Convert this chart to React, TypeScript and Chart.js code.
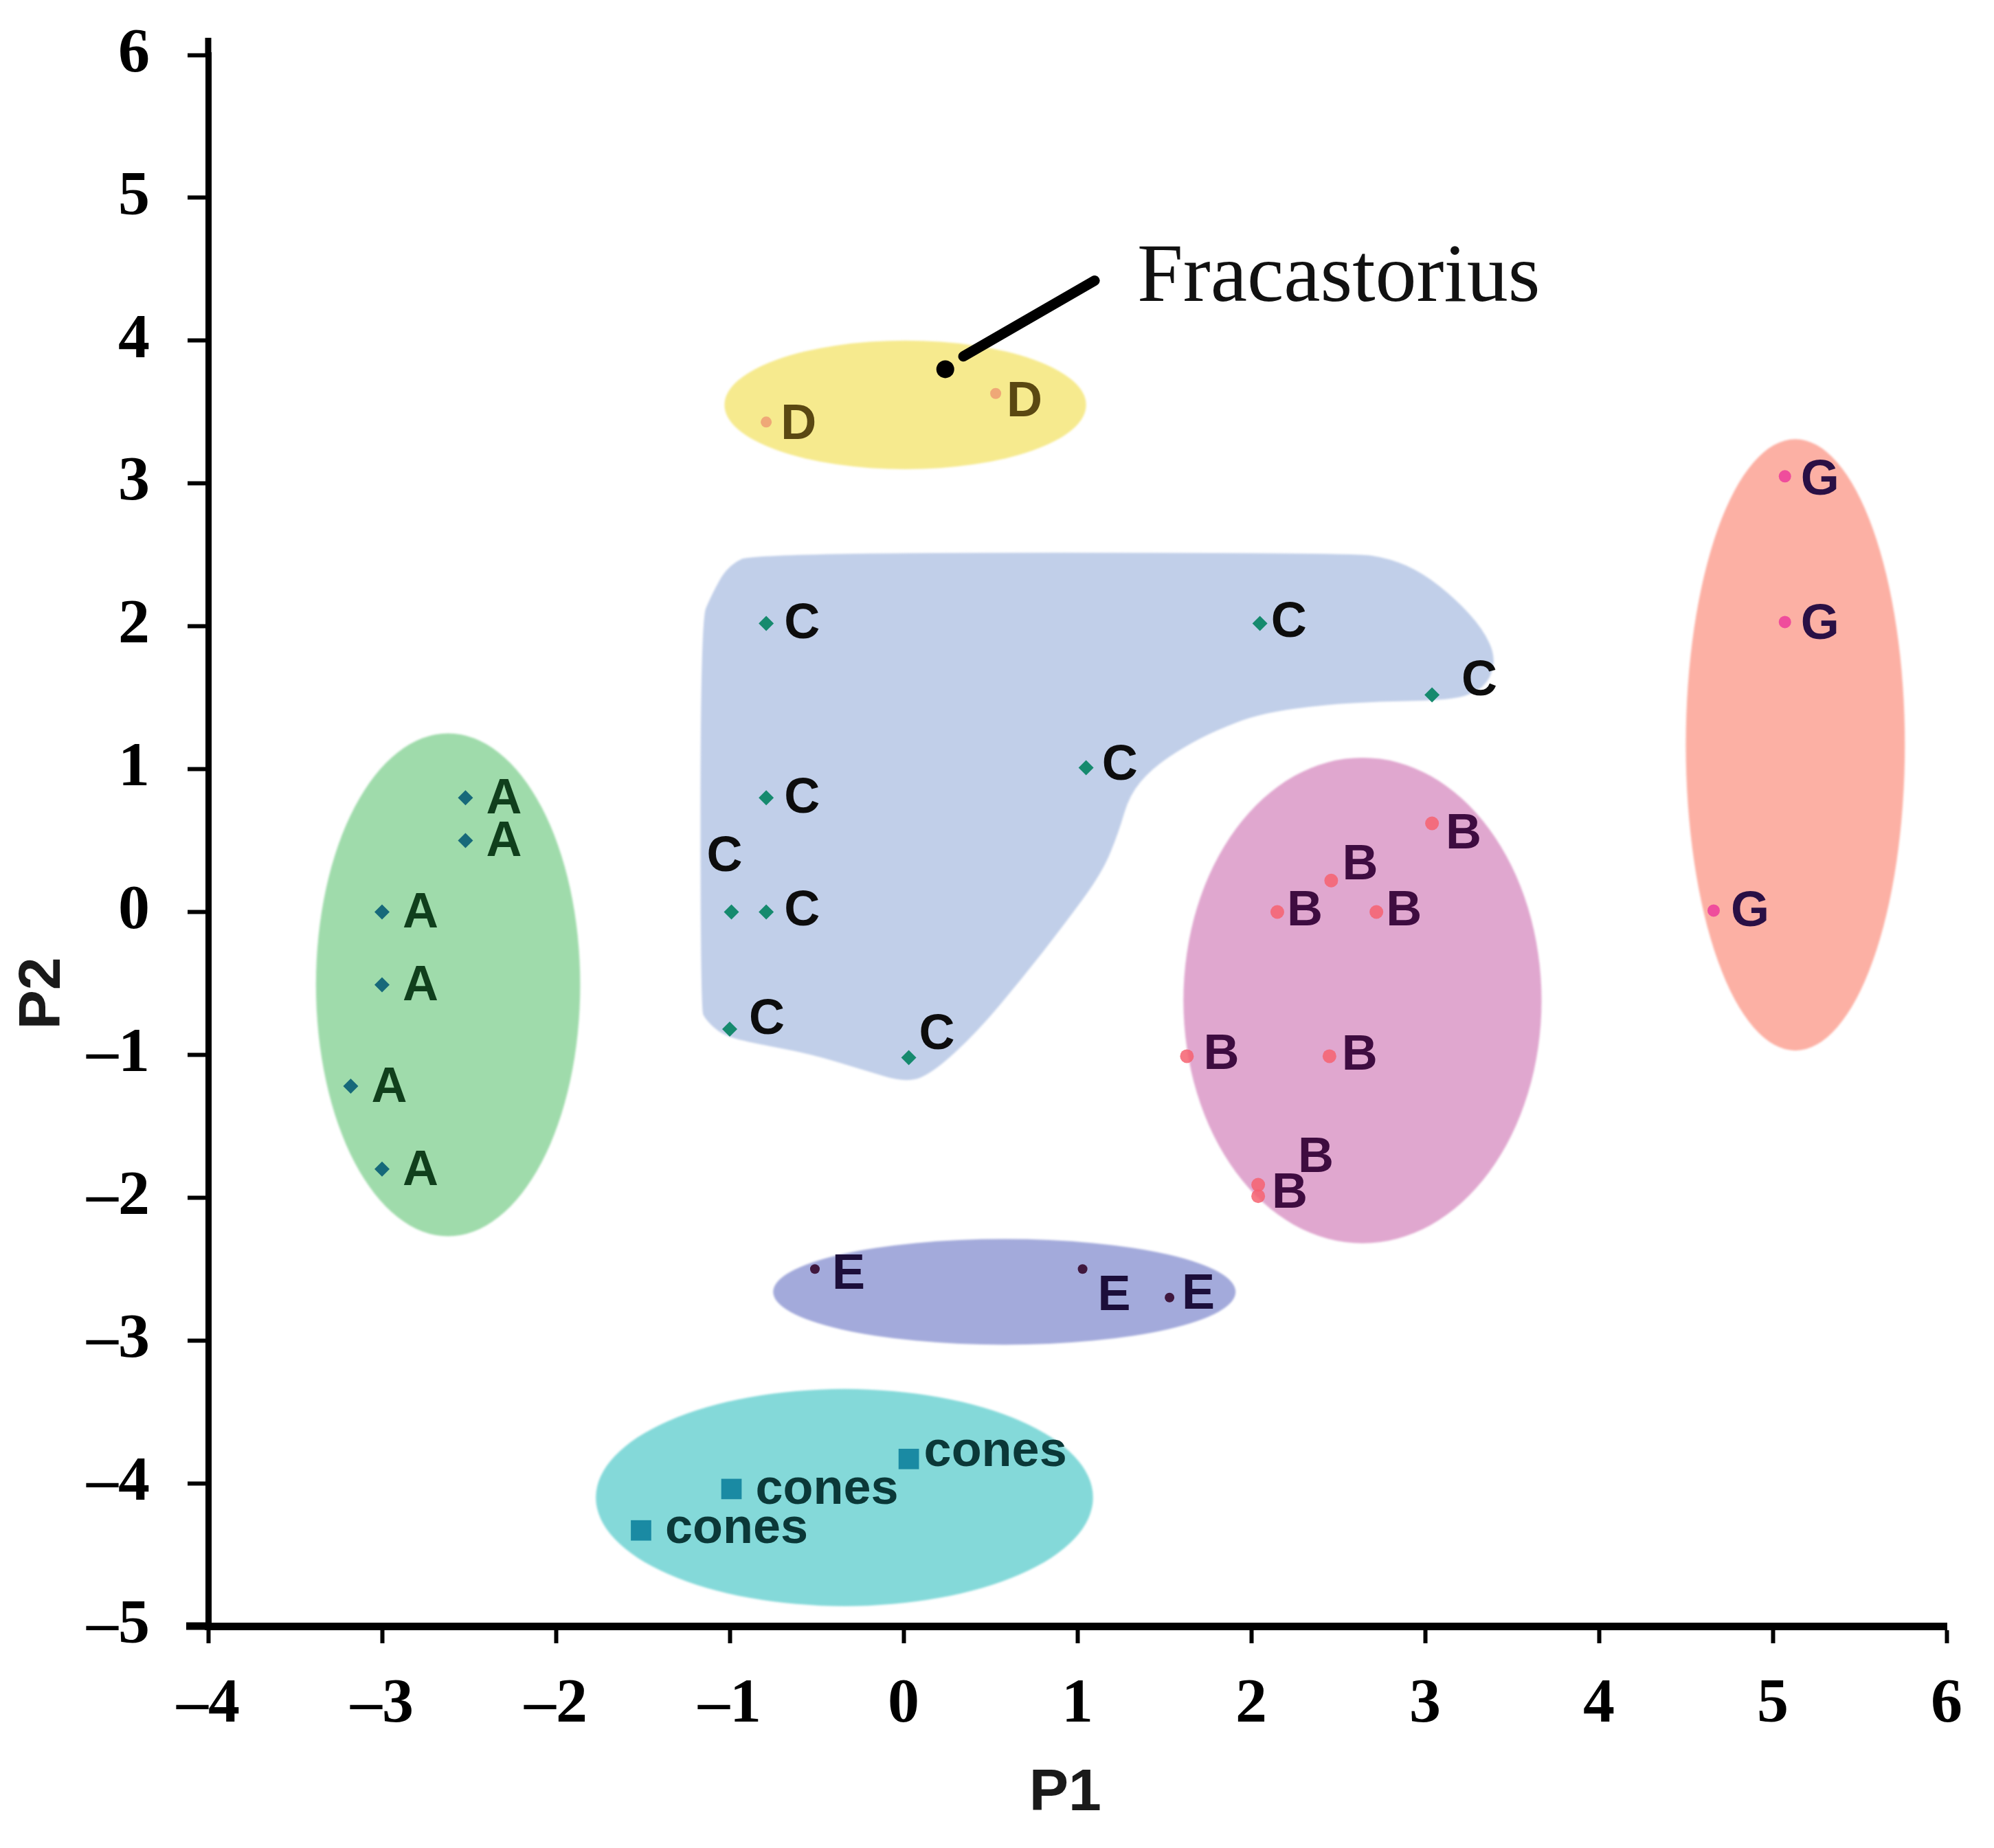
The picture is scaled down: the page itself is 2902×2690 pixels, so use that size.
import React, { useEffect, useRef } from 'react';
import { Chart, registerables } from 'chart.js';

Chart.register(...registerables);

// ---------- axis ticks ----------
const X_TICKS = [-4, -3, -2, -1, 0, 1, 2, 3, 4, 5, 6];
const Y_TICKS = [-5, -4, -3, -2, -1, 0, 1, 2, 3, 4, 5, 6];

// ---------- groups (P1 = x, P2 = y) ----------
const A_P1 = [-2.52, -2.52, -3.0, -3.0, -3.18, -3.0];
const A_P2 = [0.8, 0.5, 0.0, -0.51, -1.22, -1.8];

const C_P1 = [-0.79, 2.05, 3.04, 1.05, -0.79, -0.99, -0.79, -1.0, 0.03];
const C_P2 = [2.02, 2.02, 1.52, 1.01, 0.8, 0.0, 0.0, -0.82, -1.02];

const B_P1 = [3.04, 2.46, 2.15, 2.72, 1.63, 2.45, 2.04, 2.04];
const B_P2 = [0.62, 0.22, 0.0, 0.0, -1.01, -1.01, -1.91, -1.99];

const G_P1 = [5.07, 5.07, 4.66];
const G_P2 = [3.05, 2.03, 0.01];

const D_P1 = [-0.79, 0.53];
const D_P2 = [3.43, 3.63];

const E_P1 = [-0.51, 1.03, 1.53];
const E_P2 = [-2.5, -2.5, -2.7];

const CONES_P1 = [0.03, -0.99, -1.51];
const CONES_P2 = [-3.83, -4.04, -4.33];

const FRAC_P1 = [0.24];
const FRAC_P2 = [3.8];

// ---------- shaded cluster regions (ellipses) ----------
const REGION_NAMES = ['D', 'A', 'G', 'B', 'E', 'cones'];
const REGION_CX = [0.01, -2.62, 5.13, 2.64, 0.58, -0.34];
const REGION_CY = [3.55, -0.51, 1.17, -0.62, -2.66, -4.1];
const REGION_RX = [1.04, 0.76, 0.63, 1.03, 1.33, 1.43];
const REGION_RY = [0.45, 1.76, 2.14, 1.7, 0.37, 0.76];

// ---------- C region outline ----------
const C_REGION_P1 = [
  -0.855, -1.012, -1.106, -1.168, -1.168, -1.137, -1.043, -0.887, -0.543, -0.23, 0.019,
  0.176, 0.426, 0.676, 0.926, 1.144, 1.238, 1.3, 1.426, 1.613, 1.8, 2.051, 2.425, 2.738,
  3.05, 3.238, 3.362, 3.409, 3.332, 3.175, 2.988, 2.8, 2.581,
];
const C_REGION_P2 = [
  2.515, 2.424, 2.217, 2.036, -0.681, -0.758, -0.862, -0.914, -0.991, -1.107, -1.198,
  -1.12, -0.836, -0.474, -0.086, 0.277, 0.561, 0.82, 1.001, 1.156, 1.273, 1.389, 1.453,
  1.472, 1.48, 1.506, 1.596, 1.777, 1.984, 2.191, 2.372, 2.475, 2.515,
];

// ---------- annotation ----------
const ANNOT_TEXT = 'Fracastorius';
const ANNOT_LINE_P1 = [0.344, 1.099];
const ANNOT_LINE_P2 = [3.89, 4.42];
const ANNOT_TEXT_P1 = 1.344;
const ANNOT_TEXT_P2 = 4.28;

// ---------- styles ----------
const REGION_COLORS: Record<string, string> = {
  D: '#f6ea8e',
  A: '#9fdbab',
  G: '#fcb0a4',
  B: '#e0a7cf',
  E: '#a3aadb',
  cones: '#84d9d9',
  C: '#c1cfe9',
};

// label pixel nudges [dx, dy] per point
const LABEL_NUDGE: Record<string, number[][]> = {
  A: [[30, 3], [30, 3], [30, 3], [30, 3], [30, 3], [30, 3]],
  C: [[26, 2], [16, 0], [43, -19], [23, -2], [26, 2], [-36, -79], [26, 0], [28, -13], [15, -32]],
  B: [[20, 17], [16, -22], [14, 0], [14, 0], [24, -1], [18, 0], [58, -38], [20, -3]],
  G: [[23, 7], [23, 5], [25, 3]],
  D: [[21, 5], [16, 13]],
  E: [[25, 9], [22, 40], [18, -4]],
  cones: [[22, -10], [35, 2], [35, -2]],
};
const LABEL_COLORS: Record<string, string> = {
  A: '#103f1c',
  C: '#0d0d0d',
  B: '#3e0c40',
  G: '#2a1045',
  D: '#5a4812',
  E: '#1c0e3a',
  cones: '#0b3838',
};

const fmt = (v: number) => (v < 0 ? '\u2013' + Math.abs(v) : String(v));

const toPts = (xs: number[], ys: number[]) => xs.map((x, i) => ({ x, y: ys[i] }));

const regionsPlugin = {
  id: 'regions',
  beforeDatasetsDraw(chart: any) {
    const { ctx } = chart;
    const xs = chart.scales.x;
    const ys = chart.scales.y;
    ctx.save();
    ctx.filter = 'blur(1.5px)';
    // C region (smoothed closed outline)
    const pts = C_REGION_P1.map((v, i) => [xs.getPixelForValue(v), ys.getPixelForValue(C_REGION_P2[i])]);
    const n = pts.length;
    const mid = (a: number[], b: number[]) => [(a[0] + b[0]) / 2, (a[1] + b[1]) / 2];
    ctx.beginPath();
    const start = mid(pts[n - 1], pts[0]);
    ctx.moveTo(start[0], start[1]);
    for (let i = 0; i < n; i++) {
      const p = pts[i];
      const m = mid(p, pts[(i + 1) % n]);
      ctx.quadraticCurveTo(p[0], p[1], m[0], m[1]);
    }
    ctx.closePath();
    ctx.fillStyle = REGION_COLORS.C;
    ctx.fill();
    // ellipses
    REGION_NAMES.forEach((name, i) => {
      const cx = xs.getPixelForValue(REGION_CX[i]);
      const cy = ys.getPixelForValue(REGION_CY[i]);
      const rx = Math.abs(xs.getPixelForValue(REGION_CX[i] + REGION_RX[i]) - cx);
      const ry = Math.abs(ys.getPixelForValue(REGION_CY[i] + REGION_RY[i]) - cy);
      ctx.beginPath();
      ctx.ellipse(cx, cy, rx, ry, 0, 0, Math.PI * 2);
      ctx.fillStyle = REGION_COLORS[name];
      ctx.fill();
    });
    ctx.restore();
  },
};

const labelsPlugin = {
  id: 'pointLabels',
  afterDatasetsDraw(chart: any) {
    const { ctx } = chart;
    ctx.save();
    ctx.font = 'bold 72px "Liberation Sans", Arial, sans-serif';
    ctx.textAlign = 'left';
    ctx.textBaseline = 'middle';
    chart.data.datasets.forEach((ds: any, di: number) => {
      const name = ds.label;
      const nudges = LABEL_NUDGE[name];
      if (!nudges) return;
      const meta = chart.getDatasetMeta(di);
      ctx.fillStyle = LABEL_COLORS[name];
      meta.data.forEach((el: any, i: number) => {
        const d = nudges[i] || [22, 0];
        ctx.fillText(name, el.x + d[0], el.y + d[1]);
      });
    });
    ctx.restore();
  },
};

const decorPlugin = {
  id: 'decor',
  afterDraw(chart: any) {
    const { ctx, chartArea } = chart;
    const xs = chart.scales.x;
    const ys = chart.scales.y;
    ctx.save();
    // axis line extensions
    ctx.strokeStyle = '#000';
    ctx.lineCap = 'butt';
    ctx.lineWidth = 9;
    ctx.beginPath();
    ctx.moveTo(chartArea.left, chartArea.top - 25);
    ctx.lineTo(chartArea.left, chartArea.top + 2);
    ctx.stroke();
    ctx.lineWidth = 11;
    ctx.beginPath();
    ctx.moveTo(chartArea.left - 32, chartArea.bottom);
    ctx.lineTo(chartArea.left + 2, chartArea.bottom);
    ctx.stroke();

    // annotation pointer
    ctx.lineWidth = 15;
    ctx.lineCap = 'round';
    ctx.beginPath();
    ctx.moveTo(xs.getPixelForValue(ANNOT_LINE_P1[0]), ys.getPixelForValue(ANNOT_LINE_P2[0]));
    ctx.lineTo(xs.getPixelForValue(ANNOT_LINE_P1[1]), ys.getPixelForValue(ANNOT_LINE_P2[1]));
    ctx.stroke();
    ctx.fillStyle = '#111';
    ctx.font = '120px "Liberation Serif", "Times New Roman", serif';
    ctx.textAlign = 'left';
    ctx.textBaseline = 'alphabetic';
    ctx.fillText(ANNOT_TEXT, xs.getPixelForValue(ANNOT_TEXT_P1), ys.getPixelForValue(ANNOT_TEXT_P2));

    // axis titles
    ctx.fillStyle = '#1a1a1a';
    ctx.font = 'bold 86px "Liberation Sans", Arial, sans-serif';
    ctx.textAlign = 'center';
    ctx.textBaseline = 'middle';
    ctx.fillText('P1', xs.getPixelForValue(0.93), xs.bottom - 79);
    ctx.save();
    ctx.translate(ys.left + 63, ys.getPixelForValue(-0.57));
    ctx.rotate(-Math.PI / 2);
    ctx.fillText('P2', 0, 0);
    ctx.restore();
    ctx.restore();
  },
};

const W = 2902;
const H = 2690;

export default function App() {
  const ref = useRef<HTMLCanvasElement | null>(null);
  useEffect(() => {
    if (!ref.current) return;
    const tickFont = { family: '"Liberation Serif", "Times New Roman", serif', size: 92, weight: 'bold' as const };
    const chart = new Chart(ref.current, {
      type: 'scatter',
      data: {
        datasets: [
          { label: 'A', data: toPts(A_P1, A_P2), pointStyle: 'rectRot', pointRadius: 11, backgroundColor: '#17697a', borderWidth: 0 },
          { label: 'C', data: toPts(C_P1, C_P2), pointStyle: 'rectRot', pointRadius: 11, backgroundColor: '#168a6e', borderWidth: 0 },
          { label: 'B', data: toPts(B_P1, B_P2), pointStyle: 'circle', pointRadius: 10, backgroundColor: 'rgba(246,98,112,0.85)', borderWidth: 0 },
          { label: 'G', data: toPts(G_P1, G_P2), pointStyle: 'circle', pointRadius: 9, backgroundColor: '#ef4d9c', borderWidth: 0 },
          { label: 'D', data: toPts(D_P1, D_P2), pointStyle: 'circle', pointRadius: 8, backgroundColor: 'rgba(236,140,110,0.7)', borderWidth: 0 },
          { label: 'E', data: toPts(E_P1, E_P2), pointStyle: 'circle', pointRadius: 7, backgroundColor: '#40183e', borderWidth: 0 },
          { label: 'cones', data: toPts(CONES_P1, CONES_P2), pointStyle: 'rect', pointRadius: 21, backgroundColor: '#1a8aa3', borderWidth: 0 },
          { label: 'Fracastorius', data: toPts(FRAC_P1, FRAC_P2), pointStyle: 'circle', pointRadius: 13, backgroundColor: '#000', borderWidth: 0 },
        ],
      },
      options: {
        responsive: false,
        devicePixelRatio: 1,
        animation: false,
        events: [],
        layout: { padding: { left: 0, top: 80, right: W - 2833, bottom: 0 } },
        plugins: { legend: { display: false }, tooltip: { enabled: false }, title: { display: false } },
        scales: {
          x: {
            type: 'linear',
            position: 'bottom',
            min: X_TICKS[0],
            max: X_TICKS[X_TICKS.length - 1],
            afterBuildTicks: (s: any) => { s.ticks = X_TICKS.map((v) => ({ value: v })); },
            afterFit: (s: any) => { s.height = H - 2367; s.paddingLeft = 0; s.paddingRight = 0; },
            ticks: { callback: (v: any) => fmt(Number(v)), font: tickFont, color: '#000', padding: 35, maxRotation: 0, autoSkip: false },
            grid: { display: true, drawOnChartArea: false, drawTicks: true, tickLength: 25, tickWidth: 6, tickColor: '#000' },
            border: { display: true, width: 11, color: '#000' },
            title: { display: false },
          },
          y: {
            type: 'linear',
            position: 'left',
            min: Y_TICKS[0],
            max: Y_TICKS[Y_TICKS.length - 1],
            afterBuildTicks: (s: any) => { s.ticks = Y_TICKS.map((v) => ({ value: v })); },
            afterFit: (s: any) => { s.width = 303; s.paddingTop = 0; s.paddingBottom = 0; },
            ticks: { callback: (v: any) => fmt(Number(v)), font: tickFont, color: '#000', padding: 55, autoSkip: false },
            grid: { display: true, drawOnChartArea: false, drawTicks: true, tickLength: 30, tickWidth: 6, tickColor: '#000' },
            border: { display: true, width: 9, color: '#000' },
            title: { display: false },
          },
        },
      },
      plugins: [regionsPlugin, labelsPlugin, decorPlugin],
    } as any);
    return () => chart.destroy();
  }, []);
  return (
    <div style={{ position: 'absolute', left: 0, top: 0, width: W, height: H, background: '#fff' }}>
      <canvas ref={ref} width={W} height={H} style={{ display: 'block', width: W, height: H }} />
    </div>
  );
}
